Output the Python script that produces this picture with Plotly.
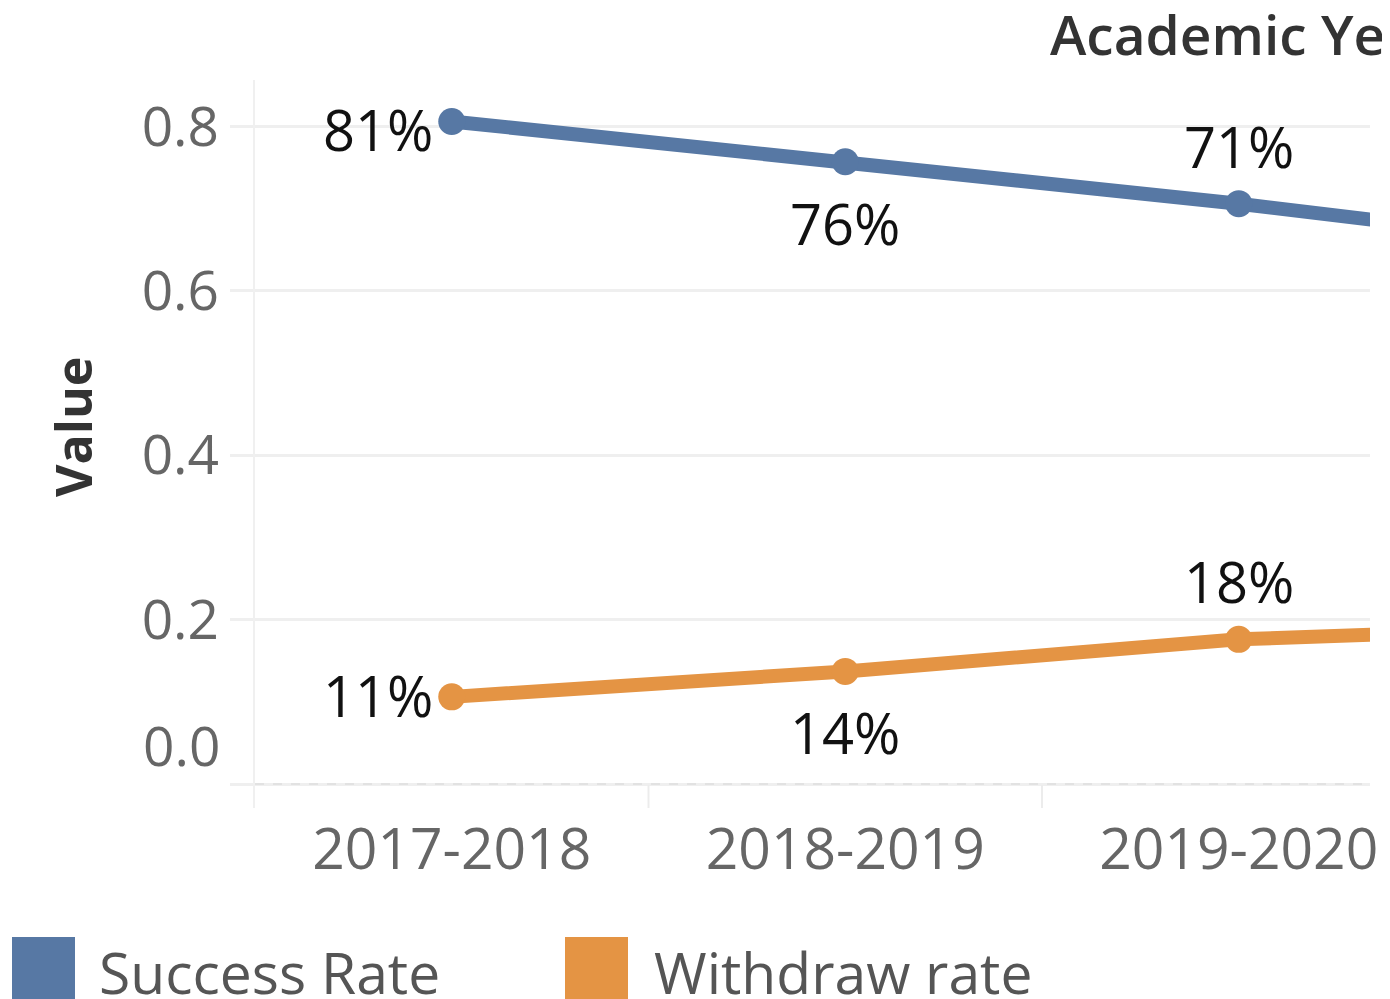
import plotly.graph_objects as go

# ---- data ----
years = ["2017-2018", "2018-2019", "2019-2020", "2020-2021"]
success_rate = [0.806, 0.757, 0.706, 0.648]
withdraw_rate = [0.106, 0.137, 0.176, 0.193]
y_tick_vals = [0.0, 0.2, 0.4, 0.6, 0.8]
y_tick_text = ["", "0.2", "0.4", "0.6", "0.8"]
series_names = ["Success Rate", "Withdraw rate"]
series_colors = ["#5778a4", "#e49444"]

# label placement per point (style, not data)
success_label_place = ["left_low", "below", "above", "above"]
withdraw_label_place = ["left", "below", "above", "above"]

# ---- geometry (screen pixels; the page body adds an 8px offset) ----
OFF = 8
W, H = 1390 - OFF, 999 - OFF
PL, PR, PT, PB = 255 - OFF, 1370 - OFF, 80 - OFF, 808 - OFF
PW, PH = PR - PL, PB - PT


def px_x(sx):
    return (sx - OFF - PL) / PW


def px_y(sy):
    return (PB - (sy - OFF)) / PH


FONT = "Open Sans"
X_MAX = -0.5 + PW / 393.5

PLACE = {
    "left_low": dict(xanchor="right", yanchor="middle", xshift=-17, yshift=-8),
    "left": dict(xanchor="right", yanchor="middle", xshift=-17, yshift=2),
    "below": dict(xanchor="center", yanchor="middle", xshift=0, yshift=-61),
    "above": dict(xanchor="center", yanchor="middle", xshift=0, yshift=58),
}

fig = go.Figure()
annotations = []
for name, vals, places, col in [
    (series_names[0], success_rate, success_label_place, series_colors[0]),
    (series_names[1], withdraw_rate, withdraw_label_place, series_colors[1]),
]:
    fig.add_trace(go.Scatter(
        x=years, y=vals, name=name, mode="lines+markers",
        line=dict(color=col, width=14),
        marker=dict(color=col, size=27),
        cliponaxis=True, showlegend=False,
    ))
    for i, (yr, v) in enumerate(zip(years, vals)):
        if i > X_MAX:
            continue
        annotations.append(dict(text=f"{v:.0%}", x=yr, y=v, xref="x", yref="y",
                                showarrow=False,
                                font=dict(family=FONT, size=56, color="#111111"),
                                **PLACE[places[i]]))

shapes = []
# dashed zero line
shapes.append(dict(type="line", xref="paper", yref="y", x0=0, x1=1, y0=0, y1=0,
                   line=dict(color="#e2e2e2", width=2, dash="dash")))
# category dividers in the header
for xb in [0.5, 1.5]:
    shapes.append(dict(type="line", xref="x", yref="paper", x0=xb, x1=xb,
                       y0=0, y1=px_y(785), line=dict(color="#ececec", width=2)))

# legend swatches + labels
legend_items = [(12, 75, 97), (565, 628, 652)]
for (sx0, sx1, tx), name, col in zip(legend_items, series_names, series_colors):
    shapes.append(dict(type="rect", xref="paper", yref="paper",
                       x0=px_x(sx0), x1=px_x(sx1), y0=px_y(1012), y1=px_y(937),
                       fillcolor=col, line=dict(width=0)))
    annotations.append(dict(text=name, xref="paper", yref="paper", x=px_x(tx), y=px_y(972),
                            xanchor="left", yanchor="middle", showarrow=False,
                            font=dict(family=FONT, size=57, color="#555555")))

# column header
annotations.append(dict(text="Academic Year", xref="paper", yref="paper",
                        x=px_x(1048), y=px_y(33), xanchor="left", yanchor="middle",
                        showarrow=False,
                        font=dict(family=FONT, size=55, color="#333333", weight=600)))
# y axis title
annotations.append(dict(text="Value", xref="paper", yref="paper", textangle=-90,
                        x=px_x(73), y=px_y(427), xanchor="center", yanchor="middle",
                        showarrow=False,
                        font=dict(family=FONT, size=50, color="#333333", weight=700)))
# 0.0 tick label (Tableau shifts the end label up)
annotations.append(dict(text="0.0", xref="paper", yref="y", x=px_x(222), y=0,
                        yshift=40, xanchor="right", yanchor="middle", showarrow=False,
                        font=dict(family=FONT, size=55, color="#666666")))

y_bottom = -(808 - 784) / 822
y_top = (784 - 80) / 822

fig.update_layout(
    width=W, height=H,
    margin=dict(l=PL, r=W - PR, t=PT, b=H - PB, autoexpand=False),
    paper_bgcolor="white", plot_bgcolor="white",
    shapes=shapes, annotations=annotations,
    xaxis=dict(type="category", categoryorder="array", categoryarray=years,
               range=[-0.5, X_MAX], showgrid=False, zeroline=False,
               showline=False, ticks="", ticklabelstandoff=3,
               tickfont=dict(family=FONT, size=57, color="#666666")),
    yaxis=dict(range=[y_bottom, y_top], tickvals=y_tick_vals, ticktext=y_tick_text,
               showgrid=True, gridcolor="#efefef", gridwidth=3, zeroline=False,
               showline=True, linecolor="#f0f0f0", linewidth=2,
               ticks="outside", ticklen=23, tickcolor="#efefef", tickwidth=3,
               tickfont=dict(family=FONT, size=55, color="#666666")),
)

fig.write_html("out.html")
